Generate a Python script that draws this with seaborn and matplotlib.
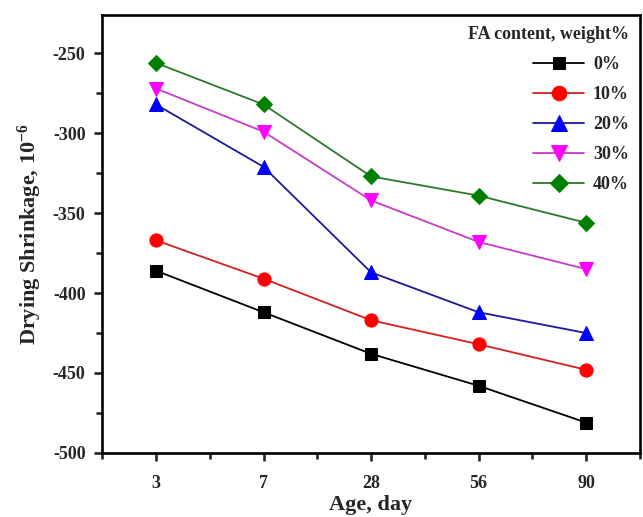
import pandas as pd
import seaborn as sns
import matplotlib
matplotlib.use('Agg')
import matplotlib.pyplot as plt
from matplotlib.ticker import MultipleLocator, FixedLocator

# Data
ages = ['3', '7', '28', '56', '90']
fa_levels = ['0%', '10%', '20%', '30%', '40%']
shrink_0 = [-386, -412, -438, -458, -481]
shrink_10 = [-367, -391, -417, -432, -448]
shrink_20 = [-282, -321, -387, -412, -425]
shrink_30 = [-272, -299, -342, -368, -385]
shrink_40 = [-256, -282, -327, -339, -356]

marker_colors = ['#000000', '#ff0000', '#0000ff', '#ff00ff', '#008000']
line_colors = ['#000000', '#d42020', '#1a1a9a', '#c83cc8', '#2a7a2a']
marker_styles = ['s', 'o', '^', 'v', 'D']
marker_sizes = [8.5, 9.5, 10, 10, 8.5]

# Long table for seaborn
series = [shrink_0, shrink_10, shrink_20, shrink_30, shrink_40]
rows = []
for lvl, vals in zip(fa_levels, series):
    for i, (age, v) in enumerate(zip(ages, vals)):
        rows.append({'pos': i, 'age': age, 'FA': lvl, 'shrinkage': v})
df = pd.DataFrame(rows)

sns.set_style('ticks')
plt.rcParams['font.family'] = ['Liberation Serif', 'DejaVu Serif']
plt.rcParams['font.weight'] = 'bold'
plt.rcParams['axes.unicode_minus'] = False
plt.rcParams['mathtext.fontset'] = 'custom'
plt.rcParams['mathtext.rm'] = 'Liberation Serif:bold'
plt.rcParams['mathtext.bf'] = 'Liberation Serif:bold'
plt.rcParams['mathtext.default'] = 'rm'

fig, ax = plt.subplots(figsize=(6.43, 5.17), dpi=100)
fig.subplots_adjust(left=0.159, right=0.995, top=0.971, bottom=0.124)

for lvl, mk, mc, lc, ms in zip(fa_levels, marker_styles, marker_colors, line_colors, marker_sizes):
    sub = df[df['FA'] == lvl]
    sns.lineplot(data=sub, x='pos', y='shrinkage', ax=ax, color=lc, linewidth=1.3,
                 marker=mk, markersize=ms, markerfacecolor=mc, markeredgecolor=mc,
                 label=lvl)

# axes
ax.set_xlim(-0.5, len(ages) - 0.5)
ax.set_ylim(-500, -226)
ax.xaxis.set_major_locator(FixedLocator(range(len(ages))))
ax.set_xticklabels(ages)
ax.xaxis.set_minor_locator(FixedLocator([i - 0.5 for i in range(len(ages) + 1)]))
ax.yaxis.set_major_locator(MultipleLocator(50))
ax.yaxis.set_minor_locator(MultipleLocator(25))

for sp in ax.spines.values():
    sp.set_linewidth(1.9)
    sp.set_color('black')
ax.tick_params(which='major', direction='out', length=6, width=1.9, labelsize=13, pad=6)
ax.tick_params(which='minor', direction='out', length=4, width=1.9)
ax.tick_params(axis='x', pad=10)
for lab in ax.get_xticklabels() + ax.get_yticklabels():
    lab.set_fontweight('bold')

ax.set_xlabel('Age, day', fontsize=16, fontweight='bold', labelpad=2)
ax.set_ylabel(r'Drying Shrinkage, 10$^{-6}$', fontsize=16, fontweight='bold', labelpad=6)

leg = ax.legend(title='FA content, weight%', loc='upper right', frameon=False,
                fontsize=13, title_fontsize=13, handlelength=2.8, labelspacing=0.72,
                borderaxespad=0.2, handletextpad=0.5, markerscale=1.1)
leg.get_title().set_fontweight('bold')
for t in leg.get_texts():
    t.set_fontweight('bold')
leg._legend_box.align = 'right'

fig.savefig('out.png', dpi=100)
